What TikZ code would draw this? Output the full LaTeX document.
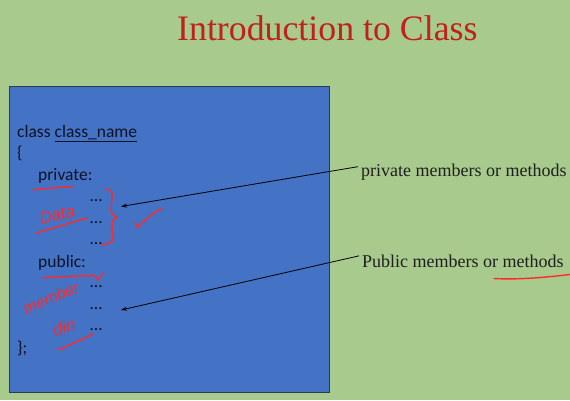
\documentclass[tikz,border=0pt]{standalone}
\usepackage{fontspec}
\setmainfont{Liberation Serif}
\newfontfamily\codefont{Carlito}
\newfontfamily\handfont{Liberation Sans}
\usetikzlibrary{arrows.meta}
\definecolor{slidegreen}{HTML}{A8CA8C}
\definecolor{panelblue}{HTML}{4472C4}
\definecolor{paneledge}{HTML}{2C3A52}
\definecolor{titlered}{HTML}{C0211A}
\definecolor{inkred}{HTML}{FF2A2A}
\definecolor{codeink}{HTML}{0E1224}
\begin{document}
\begin{tikzpicture}[x=1pt,y=-1pt,
  code/.style={anchor=base west,inner sep=0pt,text=codeink,font=\codefont\fontsize{17.5}{20}\selectfont},
  label/.style={anchor=base west,inner sep=3pt,text=black!88,font=\fontsize{18}{21}\selectfont},
  pointer/.style={draw=black,line width=0.8pt,-{Stealth[length=6pt,width=4pt]}},
  ink/.style={draw=inkred,line width=1.4pt,line cap=round,line join=round},
  hand/.style={inner sep=0pt,text=inkred,font=\handfont\itshape\fontsize{17}{19}\selectfont}]
  % slide background and class panel
  \fill[slidegreen] (0,0) rectangle (570,400);
  \useasboundingbox (0,0) rectangle (570,400);
  \filldraw[fill=panelblue,draw=paneledge,line width=1pt] (9.5,86) rectangle (329,392);

  % title
  \node[anchor=base west,inner sep=0pt,text=titlered,font=\fontsize{35.8}{40}\selectfont] (title) at (177,40) {Introduction to Class};

  % class skeleton
  \node[code] (head) at (17,137.5) {class \underline{class\_name}};
  \node[code] (open) at (17,158.5) {\{};
  \node[code] (priv) at (38,180.5) {private:};
  \node[code] (pd1) at (90,201) {\dots};
  \node[code] (pd2) at (90,223) {\dots};
  \node[code] (pd3) at (90,244.5) {\dots};
  \node[code] (pub) at (38,267) {public:};
  \node[code] (ud1) at (90,287.5) {\dots};
  \node[code] (ud2) at (90,309) {\dots};
  \node[code] (ud3) at (90,330.5) {\dots};
  \node[code] (close) at (17,353) {\};};

  % side labels and pointers
  \node[label] (lpriv) at (358,176) {private members or methods};
  \node[label] (lpub) at (359,267) {Public members or methods};
  \coordinate (tippriv) at (121,206.5);
  \coordinate (tippub) at (121,310);
  \draw[pointer] (lpriv.west) ++(0,-5) -- (tippriv);
  \draw[pointer] (lpub.west) ++(0,-5) -- (tippub);

  % handwritten notes
  \draw[ink] (33,190) .. controls (48,188) and (60,187.5) .. (73,186.5);
  \node[hand,rotate=12] (data) at (57,215) {Data};
  \draw[ink] (36,233) .. controls (55,228) and (72,222) .. (87,218);
  \draw[ink] (105,189) .. controls (111,189) and (113,192) .. (112,198)
    -- (111,210) .. controls (111,214) and (113,216) .. (117,217)
    .. controls (113,219) and (112,222) .. (112,226)
    -- (113,238) .. controls (113,243) and (108,245) .. (101,244.5);
  \draw[ink] (135,222.5) -- (137.5,227.5) .. controls (145,220) and (153,213) .. (162,208);
  \draw[ink] (43,278) .. controls (60,276.5) and (78,276) .. (94,275.5) -- (98,280) -- (103,273);
  \node[hand,rotate=22,font=\handfont\itshape\fontsize{16}{18}\selectfont] (member) at (51,298) {member};
  \node[hand,rotate=18] (din) at (64,327) {din};
  \draw[ink] (58,350) .. controls (72,344) and (83,339) .. (93,334);
  \draw[ink] (494,278.5) .. controls (520,280) and (548,277) .. (570,274.5);
\end{tikzpicture}
\end{document}
